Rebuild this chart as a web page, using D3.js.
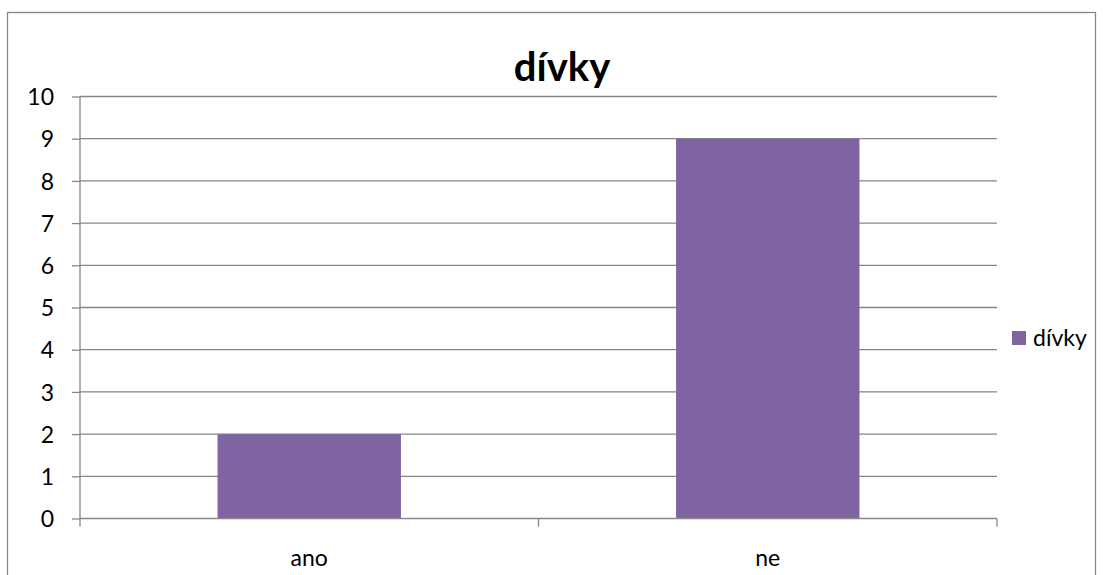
<!DOCTYPE html>
<html>
<head>
<meta charset="utf-8">
<script src="https://cdn.jsdelivr.net/npm/d3@7"></script>
<style>
  html, body { margin: 0; padding: 0; background: #fff; }
  svg text { font-family: Lato, "Open Sans", sans-serif; fill: #000; }
</style>
</head>
<body>
<svg id="chart" width="1103" height="575"></svg>
<script>
// Data
const categories = ["ano", "ne"];
const values = [2, 9];
const seriesName = "dívky";
const yTicks = [0, 1, 2, 3, 4, 5, 6, 7, 8, 9, 10];

const svg = d3.select("#chart");
const plot = { left: 80, right: 997, top: 96.5, bottom: 518.5 };
const axisColor = "#868686";
const barColor = "#8064A2";
const labelSize = "23px";

// Outer chart frame
svg.append("rect")
  .attr("x", 7.5).attr("y", 12.5)
  .attr("width", 1088).attr("height", 600)
  .attr("fill", "none").attr("stroke", axisColor).attr("stroke-width", 1.3);

const x = d3.scaleBand().domain(categories).range([plot.left, plot.right]).paddingInner(0).paddingOuter(0);
const y = d3.scaleLinear().domain([0, 10]).range([plot.bottom, plot.top]);

// Horizontal gridlines
svg.append("g").selectAll("line").data(yTicks.filter(d => d > 0)).join("line")
  .attr("x1", plot.left).attr("x2", plot.right)
  .attr("y1", d => y(d)).attr("y2", d => y(d))
  .attr("stroke", axisColor).attr("stroke-width", 1.3);

// Bars: gap width 150% of the bar
const barW = x.bandwidth() / 2.5;
svg.append("g").selectAll("rect").data(values).join("rect")
  .attr("x", (d, i) => x(categories[i]) + (x.bandwidth() - barW) / 2)
  .attr("width", barW)
  .attr("y", d => y(d))
  .attr("height", d => y(0) - y(d))
  .attr("fill", barColor);

// Y axis
const yAxis = svg.append("g").attr("transform", `translate(${plot.left},0)`)
  .call(d3.axisLeft(y).tickValues(yTicks).tickSize(8).tickPadding(18).tickFormat(d3.format("d")));
yAxis.select(".domain").attr("stroke", axisColor).attr("stroke-width", 1.3).attr("d", `M0,${plot.top}V${plot.bottom}`);
yAxis.selectAll(".tick line").attr("stroke", axisColor).attr("stroke-width", 1.3);
yAxis.selectAll(".tick text").style("font-size", labelSize).attr("dy", "0.36em");

// X axis with ticks at category boundaries
svg.append("line")
  .attr("x1", plot.left).attr("x2", plot.right)
  .attr("y1", plot.bottom).attr("y2", plot.bottom)
  .attr("stroke", axisColor).attr("stroke-width", 1.3);
const bounds = categories.map(c => x(c)).concat([x(categories[categories.length - 1]) + x.bandwidth()]);
svg.append("g").selectAll("line").data(bounds).join("line")
  .attr("x1", d => d).attr("x2", d => d)
  .attr("y1", plot.bottom).attr("y2", plot.bottom + 8)
  .attr("stroke", axisColor).attr("stroke-width", 1.3);
svg.append("g").selectAll("text").data(categories).join("text")
  .attr("x", d => x(d) + x.bandwidth() / 2)
  .attr("y", 566)
  .attr("text-anchor", "middle")
  .style("font-size", labelSize)
  .text(d => d);

// Title
svg.append("text")
  .attr("x", 562).attr("y", 81)
  .attr("text-anchor", "middle")
  .style("font-size", "40px").style("font-weight", "bold")
  .text(seriesName);

// Legend
const lg = svg.append("g").attr("transform", "translate(1012,331)");
lg.append("rect").attr("width", 14).attr("height", 14).attr("fill", barColor);
lg.append("text").attr("x", 21).attr("y", 15).style("font-size", labelSize).text(seriesName);
</script>
</body>
</html>
